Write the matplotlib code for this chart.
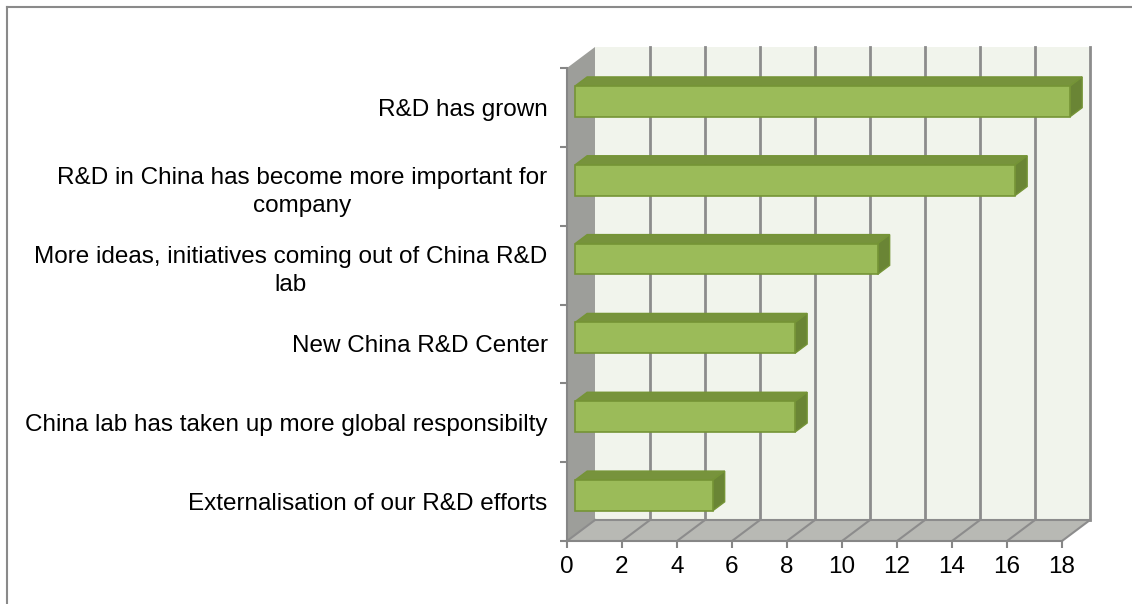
import matplotlib
matplotlib.use("Agg")
import matplotlib.pyplot as plt
from matplotlib.patches import Polygon, Rectangle
from matplotlib.lines import Line2D

plt.rcParams['font.family'] = ['Liberation Sans', 'DejaVu Sans']

# data (top to bottom)
categories = [
    "R&D has grown",
    "R&D in China has become more important for\ncompany",
    "More ideas, initiatives coming out of China R&D\nlab",
    "New China R&D Center",
    "China lab has taken up more global responsibilty",
    "Externalisation of our R&D efforts",
]
values = [18, 16, 11, 8, 8, 5]
xticks = list(range(0, 19, 2))

W, H = 1132, 604
fig = plt.figure(figsize=(W / 100, H / 100), dpi=100)

# front plane of the 3d box, in pixels
x0px, x1px, ytop, ybot = 567, 1062, 68, 541
ax = fig.add_axes([x0px / W, 1 - ybot / H, (x1px - x0px) / W, (ybot - ytop) / H])
ax.set_xlim(0, 18)
ax.set_ylim(len(values) - 0.5, -0.5)

n = len(values)
# depth of the box in data units
px_x = (x1px - x0px) / 18
px_y = (ybot - ytop) / n
dX = 28 / px_x
dY = 21 / px_y

wall_c = '#f1f4ec'
side_c = '#9d9e9a'
floor_c = '#b8b9b4'
grid_c = '#8c8c8c'

# back wall
ax.add_patch(Rectangle((dX, -0.5 - dY), 18, n, fc=wall_c, ec='none', clip_on=False, zorder=0))
for t in xticks[1:]:
    ax.plot([t + dX, t + dX], [-0.5 - dY, n - 0.5 - dY], color=grid_c, lw=2, clip_on=False, zorder=1)
# left wall
ax.add_patch(Polygon([(0, -0.5), (dX, -0.5 - dY), (dX, n - 0.5 - dY), (0, n - 0.5)],
                     closed=True, fc=side_c, ec='none', clip_on=False, zorder=1))
# floor
ax.add_patch(Polygon([(0, n - 0.5), (18, n - 0.5), (18 + dX, n - 0.5 - dY), (dX, n - 0.5 - dY)],
                     closed=True, fc=floor_c, ec='none', clip_on=False, zorder=1))
for t in xticks:
    ax.plot([t, t + dX], [n - 0.5, n - 0.5 - dY], color=grid_c, lw=1.5, clip_on=False, zorder=2)
ax.plot([dX, 18 + dX], [n - 0.5 - dY, n - 0.5 - dY], color=grid_c, lw=1.5, clip_on=False, zorder=2)

# bars
f0, f1 = 0.29, 0.72
bh = 0.39
front_c = '#9bbb59'
top_c = '#77933c'
rside_c = '#6a8535'
edge_c = '#759436'
ddx = (f1 - f0) * dX
ddy = (f1 - f0) * dY
for i, v in enumerate(values):
    yc = i - f0 * dY
    xl = f0 * dX
    ax.barh(yc, v, left=xl, height=bh, color=front_c, edgecolor=edge_c, lw=1.2, zorder=5,
            clip_on=False)
    yt = yc - bh / 2
    yb = yc + bh / 2
    ax.add_patch(Polygon([(xl, yt), (xl + v, yt), (xl + v + ddx, yt - ddy), (xl + ddx, yt - ddy)],
                         closed=True, fc=top_c, ec=edge_c, lw=1, zorder=4, clip_on=False))
    ax.add_patch(Polygon([(xl + v, yt), (xl + v, yb), (xl + v + ddx, yb - ddy), (xl + v + ddx, yt - ddy)],
                         closed=True, fc=rside_c, ec=edge_c, lw=1, zorder=4, clip_on=False))

for s in ['top', 'right']:
    ax.spines[s].set_visible(False)
for s in ['left', 'bottom']:
    ax.spines[s].set_color('#868686')
    ax.spines[s].set_linewidth(1.5)
ax.patch.set_visible(False)

ax.set_xticks(xticks)
ax.set_xticklabels([str(t) for t in xticks], fontsize=17.5)
ax.tick_params(axis='x', length=5, width=1.5, color='#868686', pad=6)

ax.set_yticks([i - 0.5 for i in range(n + 1)])
ax.set_yticklabels([])
ax.set_yticks(range(n), minor=True)
ax.set_yticklabels(categories, minor=True, fontsize=17.5)
ax.tick_params(axis='y', which='major', length=5, width=1.5, color='#868686')
ax.tick_params(axis='y', which='minor', length=0, pad=14)
for lab in ax.get_yticklabels(minor=True):
    lab.set_multialignment('center')
    lab.set_linespacing(1.35)

# outer border (left and top only visible)
fig.add_artist(Line2D([6.5 / W, 6.5 / W], [0, 1 - 7 / H], color='#8a8a8a', lw=1.5))
fig.add_artist(Line2D([6.5 / W, 1], [1 - 7 / H, 1 - 7 / H], color='#8a8a8a', lw=1.5))

fig.savefig('out.png', dpi=100)
